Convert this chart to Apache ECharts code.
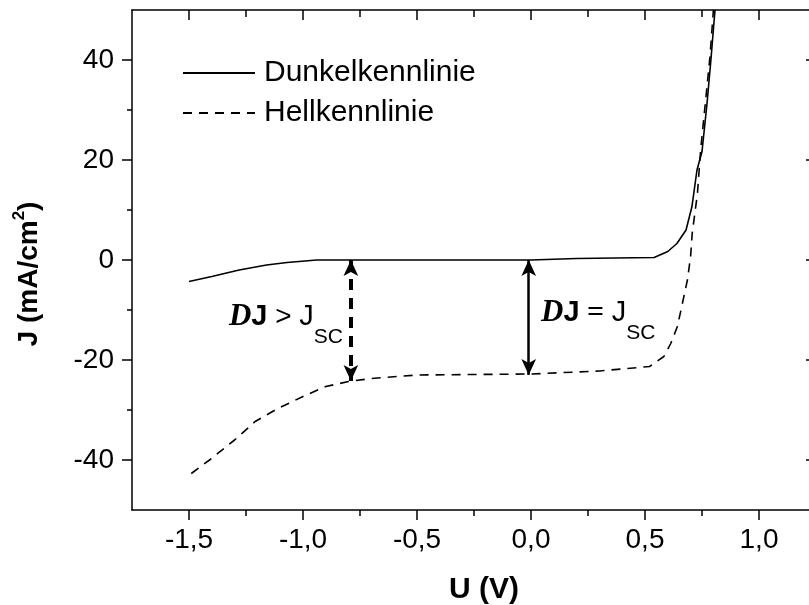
<!DOCTYPE html>
<html>
<head>
<meta charset="utf-8">
<script src="https://cdn.jsdelivr.net/npm/echarts@6/dist/echarts.min.js"></script>
<style>
html,body{margin:0;padding:0;background:#fff;}
#chart{width:809px;height:605px;}
</style>
</head>
<body>
<div id="chart"></div>
<script>
// ---- data ----
var darkU = [-1.5, -1.4, -1.28, -1.16, -1.07, -0.94, -0.5, 0, 0.2, 0.54, 0.56, 0.6, 0.64, 0.68, 0.706, 0.728, 0.75, 0.772, 0.789, 0.807];
var darkJ = [-4.3, -3.3, -2.0, -1.0, -0.5, 0, 0, 0, 0.3, 0.5, 0.9, 1.7, 3.3, 6, 10.7, 18, 21.7, 31.3, 40, 50];
var lightU = [-1.49, -1.41, -1.30, -1.21, -1.11, -1.00, -0.90, -0.80, -0.70, -0.5, 0, 0.3, 0.52, 0.583, 0.613, 0.642, 0.664, 0.686, 0.70, 0.707, 0.73, 0.744, 0.766, 0.785, 0.80];
var lightJ = [-42.7, -40, -36, -32.3, -29.7, -27.3, -25.3, -24.3, -23.7, -23, -22.8, -22.2, -21.3, -19.3, -16.7, -13.3, -8.7, -4, 0.7, 5.3, 13.3, 22, 32, 40.7, 50];
var seriesNames = ['Dunkelkennlinie', 'Hellkennlinie'];
var xMajorTicks = [-1.5, -1.0, -0.5, 0.0, 0.5, 1.0];
var xMinorTicks = [-1.25, -0.75, -0.25, 0.25, 0.75];
var yMajorTicks = [-40, -20, 0, 20, 40];
var yMinorTicks = [-30, -10, 10, 30];
// arrows: [U, J_from, J_to]
var arrowDashed = [-0.79, 0, -24.2];
var arrowSolid = [-0.01, 0, -23];
// annotation anchor points [U, J] (left edge, vertical centre of main text)
var annotGreater = [-1.325, -11.4];
var annotEqual = [0.044, -10.6];
var annotGreaterParts = [['D', 'd'], ['J', 'jb'], [' > ', 'op'], ['J', 'j']];
var annotEqualParts = [['D', 'd'], ['J', 'jb'], [' = ', 'opb'], ['J', 'j']];
var annotSub = 'SC';

var BLACK = '#000';
var FONT = 'Liberation Sans, Arial, sans-serif';
var SERIF = 'Liberation Serif, serif';
function zip(a, b) { return a.map(function (v, i) { return [v, b[i]]; }); }
function fmtX(v) { return Number(v).toFixed(1).replace('.', ','); }

var chart = echarts.init(document.getElementById('chart'), null, {renderer: 'canvas'});

function xAx(opts) {
  return Object.assign({
    type: 'value', min: -1.75, max: 1.25, position: 'bottom',
    axisLine: {show: true, onZero: false, lineStyle: {color: BLACK, width: 1.5}},
    splitLine: {show: false},
    axisLabel: {show: false},
    axisTick: {show: false}
  }, opts);
}
function yAx(opts) {
  return Object.assign({
    type: 'value', min: -50, max: 50, position: 'left',
    axisLine: {show: true, onZero: false, lineStyle: {color: BLACK, width: 1.5}},
    splitLine: {show: false},
    axisLabel: {show: false},
    axisTick: {show: false}
  }, opts);
}
var noLine = {show: false, onZero: false};

var option = {
  animation: false,
  backgroundColor: '#fff',
  grid: {left: 132, top: 10, width: 684, height: 500, containLabel: false, outerBoundsMode: 'none'},
  legend: {
    orient: 'vertical', left: 182, top: 58, padding: 0, itemWidth: 72, itemHeight: 14, itemGap: 10,
    itemStyle: {opacity: 0},
    textStyle: {fontFamily: FONT, fontSize: 30, color: BLACK, padding: [0, 0, 0, 4]},
    data: seriesNames
  },
  xAxis: [
    xAx({
      axisTick: {show: true, customValues: xMajorTicks, length: 10, inside: false, lineStyle: {color: BLACK, width: 1.5}},
      axisLabel: {show: true, customValues: xMajorTicks, formatter: fmtX, margin: 16, fontFamily: FONT, fontSize: 28, color: BLACK},
      name: 'U (V)', nameLocation: 'middle', nameGap: 65,
      nameTextStyle: {fontFamily: FONT, fontSize: 30, fontWeight: 'bold', color: BLACK, padding: [0, 0, 0, 20]}
    }),
    xAx({axisLine: noLine, axisTick: {show: true, customValues: xMinorTicks, length: 6, lineStyle: {color: BLACK, width: 1.5}}}),
    xAx({position: 'top', axisTick: {show: true, inside: true, customValues: xMajorTicks, length: 10, lineStyle: {color: BLACK, width: 1.5}}}),
    xAx({position: 'top', axisLine: noLine, axisTick: {show: true, inside: true, customValues: xMinorTicks, length: 7, lineStyle: {color: BLACK, width: 1.5}}})
  ],
  yAxis: [
    yAx({
      axisTick: {show: true, customValues: yMajorTicks, length: 10, lineStyle: {color: BLACK, width: 1.5}},
      axisLabel: {show: true, customValues: yMajorTicks, margin: 18, fontFamily: FONT, fontSize: 28, color: BLACK},
      name: 'J (mA/cm{sup|2})', nameLocation: 'middle', nameGap: 85, nameRotate: 90,
      nameTextStyle: {fontFamily: FONT, fontSize: 28, fontWeight: 'bold', color: BLACK, padding: [0, 28, 0, 0],
        rich: {sup: {fontFamily: FONT, fontSize: 17, fontWeight: 'bold', color: BLACK, verticalAlign: 'top', lineHeight: 36}}}
    }),
    yAx({axisLine: noLine, axisTick: {show: true, customValues: yMinorTicks, length: 5, lineStyle: {color: BLACK, width: 1.5}}}),
    yAx({position: 'right', axisTick: {show: true, inside: true, customValues: yMajorTicks, length: 10, lineStyle: {color: BLACK, width: 1.5}}}),
    yAx({position: 'right', axisLine: noLine, axisTick: {show: true, inside: true, customValues: yMinorTicks, length: 6, lineStyle: {color: BLACK, width: 1.5}}})
  ],
  series: [
    {
      name: seriesNames[0], type: 'line', xAxisIndex: 0, yAxisIndex: 0,
      data: zip(darkU, darkJ), showSymbol: false, symbol: 'none', clip: true,
      lineStyle: {color: BLACK, width: 1.6, type: 'solid'}, itemStyle: {color: BLACK},
      markLine: {
        silent: true, symbol: ['arrow', 'arrow'], symbolSize: [11, 16], label: {show: false},
        data: [
          [{coord: [arrowSolid[0], arrowSolid[1]], lineStyle: {color: BLACK, width: 2.5, type: 'solid'}},
           {coord: [arrowSolid[0], arrowSolid[2]]}],
          [{coord: [arrowDashed[0], arrowDashed[1]], lineStyle: {color: BLACK, width: 4, type: [11, 8]}},
           {coord: [arrowDashed[0], arrowDashed[2]]}]
        ]
      }
    },
    {
      name: seriesNames[1], type: 'line', xAxisIndex: 0, yAxisIndex: 0,
      data: zip(lightU, lightJ), showSymbol: false, symbol: 'none', clip: true,
      lineStyle: {color: BLACK, width: 1.6, type: [9, 7]}, itemStyle: {color: BLACK}
    }
  ]
};
chart.setOption(option);

// ---- annotations (text built from parts, measured for placement) ----
var styles = {
  d: {fontFamily: SERIF, fontWeight: 'bold', fontStyle: 'italic', fontSize: 31},
  jb: {fontFamily: FONT, fontWeight: 'bold', fontStyle: 'normal', fontSize: 29},
  op: {fontFamily: FONT, fontWeight: 'normal', fontStyle: 'normal', fontSize: 28},
  opb: {fontFamily: SERIF, fontWeight: 'bold', fontStyle: 'normal', fontSize: 30},
  j: {fontFamily: FONT, fontWeight: 'normal', fontStyle: 'normal', fontSize: 29},
  s: {fontFamily: FONT, fontWeight: 'normal', fontStyle: 'normal', fontSize: 21}
};
var mctx = document.createElement('canvas').getContext('2d');
function measure(txt, st) {
  mctx.font = st.fontStyle + ' ' + st.fontWeight + ' ' + st.fontSize + 'px ' + st.fontFamily;
  return mctx.measureText(txt).width;
}
function buildAnnot(anchor, parts) {
  var p = chart.convertToPixel({xAxisIndex: 0, yAxisIndex: 0}, anchor);
  var x = p[0], els = [];
  parts.concat([[annotSub, 's']]).forEach(function (pt) {
    var st = styles[pt[1]];
    var isSub = pt[1] === 's';
    els.push({
      type: 'text', x: x, y: p[1] + (isSub ? 20 : 0), silent: true,
      style: {text: pt[0], fontFamily: st.fontFamily, fontWeight: st.fontWeight, fontStyle: st.fontStyle,
        fontSize: st.fontSize, fill: BLACK, align: 'left', verticalAlign: 'middle'}
    });
    x += measure(pt[0], st);
  });
  return els;
}
chart.setOption({
  graphic: buildAnnot(annotGreater, annotGreaterParts).concat(buildAnnot(annotEqual, annotEqualParts))
});
</script>
</body>
</html>
